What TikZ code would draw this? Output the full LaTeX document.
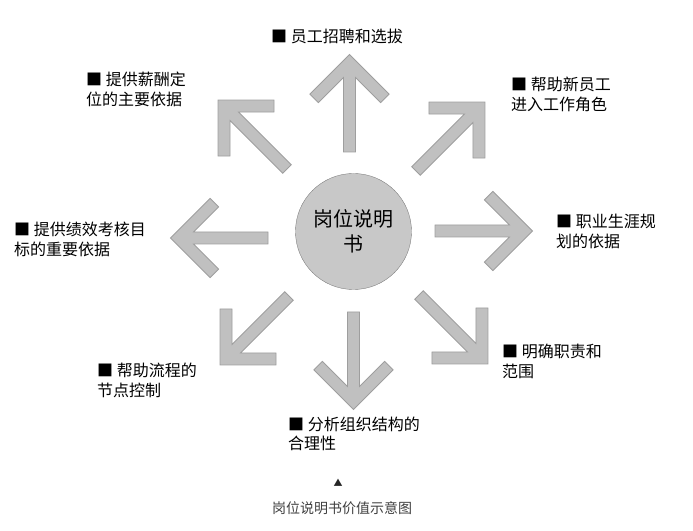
\documentclass[tikz,border=0pt]{standalone}
\usepackage{fontspec}
\setmainfont{Noto Sans CJK SC}
\definecolor{arrowgray}{RGB}{192,192,192}
\definecolor{arrowedge}{RGB}{158,158,158}
\definecolor{coregray}{RGB}{200,200,200}
\definecolor{coreedge}{RGB}{128,128,128}
\usetikzlibrary{positioning}

\begin{document}
\begin{tikzpicture}[x=1pt, y=1pt,
  valuetext/.style={anchor=base west, inner sep=0pt, align=left, font=\fontsize{16}{20}\selectfont},
  chev/.pic={\filldraw[fill=arrowgray, draw=arrowedge, line width=0.8pt, line join=miter]
    (0,-6) -- (74.51,-6) -- (49.40,-31.11) -- (57.89,-39.60) -- (97.49,0) -- (57.89,39.60) -- (49.40,31.11) -- (74.51,6) -- (0,6) -- cycle;}]
  \useasboundingbox (0,0) rectangle (693,530);

  % Centre: job description
  \node[circle, minimum size=116pt, inner sep=0pt, fill=coregray, draw=coreedge, align=center, font=\fontsize{20}{25}\selectfont] (core) at (353.5,298.5) {岗位说明\\书};

  % Eight open arrows around the centre
  \pic[rotate=90] at (349.5,378) {chev};
  \pic[rotate=45] at (416,359) {chev};
  \pic[rotate=0] at (435,299) {chev};
  \pic[rotate=-45] at (419,235) {chev};
  \pic[rotate=-90] at (353.5,218) {chev};
  \pic[rotate=-135] at (289,234) {chev};
  \pic[rotate=180] at (268,292) {chev};
  \pic[rotate=135] at (287,361) {chev};

  % Values (base = last line)
  \node[valuetext] (recruit) at (271,487) {■ 员工招聘和选拔};
  \node[valuetext] (onboard) at (511,419) {■ 帮助新员工\\进入工作角色};
  \node[valuetext] (career) at (556,282) {■ 职业生涯规\\划的依据};
  \node[valuetext] (duty) at (502,152) {■ 明确职责和\\范围};
  \node[valuetext] (structure) at (288,80) {■ 分析组织结构的\\合理性};
  \node[valuetext] (process) at (97,133) {■ 帮助流程的\\节点控制};
  \node[valuetext] (appraisal) at (14,274) {■ 提供绩效考核目\\标的重要依据};
  \node[valuetext] (pay) at (86,424) {■ 提供薪酬定\\位的主要依据};

  % Caption
  \node[font=\fontsize{9}{9}\selectfont, text=black!85] (mark) at (338,47) {▲};
  \node[font=\fontsize{14}{14}\selectfont, text=black!75] (caption) at (342,22) {岗位说明书价值示意图};
\end{tikzpicture}
\end{document}
